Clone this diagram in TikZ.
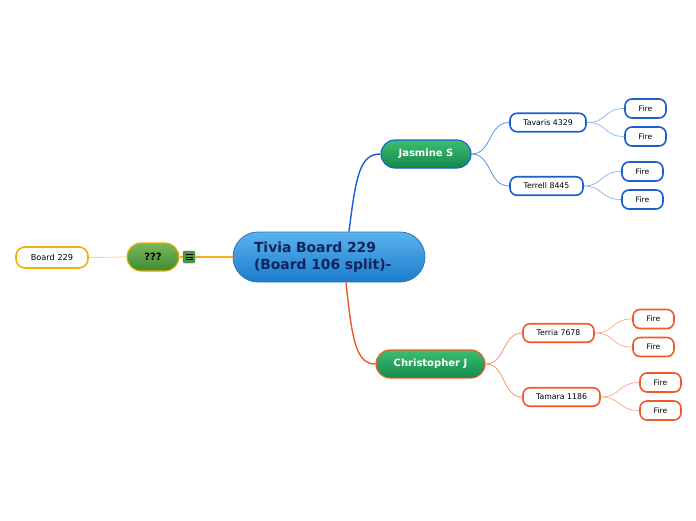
\documentclass[tikz,border=0pt]{standalone}
\usepackage{fontspec}
\setmainfont{DejaVu Sans}
\usetikzlibrary{calc}
\definecolor{blueA}{HTML}{1A5FD0}
\definecolor{blueB}{HTML}{4A8AE0}
\definecolor{blueC}{HTML}{8AB4F0}
\definecolor{orA}{HTML}{F05A28}
\definecolor{orB}{HTML}{F58A60}
\definecolor{orC}{HTML}{F8AA88}
\definecolor{gold}{HTML}{F2B000}
\definecolor{goldM}{HTML}{F5AE20}
\definecolor{goldL}{HTML}{F8D890}
\definecolor{navy}{HTML}{10245A}
\definecolor{cenTop}{HTML}{5AB2EE}
\definecolor{cenBot}{HTML}{1C7CCB}
\definecolor{cenBd}{HTML}{2A78C0}
\definecolor{grTop}{HTML}{3CBE72}
\definecolor{grBot}{HTML}{14884A}
\definecolor{olTop}{HTML}{78B858}
\definecolor{olBot}{HTML}{3E8A34}
\tikzset{
  central/.style={draw=cenBd, line width=0.8pt, top color=cenTop, bottom color=cenBot,
     minimum width=192pt, minimum height=50pt, rounded corners=25pt, text=navy, font=\bfseries\fontsize{13.9}{16.5}\selectfont, align=left},
  mainbr/.style={minimum height=28pt, rounded corners=14pt, top color=grTop, bottom color=grBot,
     text=white, font=\bfseries\fontsize{10}{12}\selectfont, line width=1.1pt, inner sep=0pt},
  sub/.style={draw=#1, line width=1.6pt, fill=white, minimum height=18.5pt, rounded corners=7pt, inner sep=0pt, font=\fontsize{7.8}{9}\selectfont},
  fire/.style={draw=#1, line width=1.6pt, fill=white, minimum width=41pt, minimum height=19pt, rounded corners=7pt, inner sep=0pt, font=\fontsize{7.6}{9}\selectfont},
}
\begin{document}
\begin{tikzpicture}[x=1pt,y=-1pt]
\useasboundingbox[fill=white] (0,0) rectangle (696,520);
% connectors on the left, behind the nodes
\node[central, text width=150pt] (c) at (329,257) {Tivia Board 229\\(Board 106 split)-};
\node[mainbr, draw=gold, minimum width=52pt, top color=olTop, bottom color=olBot, text=black] (q) at (153,257) {???};
\node[sub=gold, minimum width=72pt, rounded corners=9pt, minimum height=21pt, font=\fontsize{8.2}{10}\selectfont] (b) at (52,257.5) {Board 229};
\node[draw=olBot!80!black, fill=olBot!90!white, rounded corners=2pt, minimum width=12pt, minimum height=12pt, inner sep=0pt] (ic) at (189,257) {};
\draw[draw=goldM, line width=1.1pt] (c.west) -- (ic.east);
\draw[draw=goldM, line width=1.1pt] (ic.west) -- (q.east);
\draw[draw=goldL, line width=0.9pt] (q.west) -- (b.east);
\foreach \dy in {-2.5,0,2.5} \draw[black, line width=0.8pt] ($(ic.center)+(-3.5,\dy)$) -- ($(ic.center)+(3.5,\dy)$);
% Jasmine branch
\node[mainbr, draw=blueA, minimum width=90pt] (j) at (426,154) {Jasmine S};
\node[sub=blueA, minimum width=76pt] (t1) at (548,122.5) {Tavaris 4329};
\node[sub=blueA, minimum width=73pt] (t2) at (546.5,186) {Terrell 8445};
\node[fire=blueA] (f1) at (645.5,108.5) {Fire};
\node[fire=blueA] (f2) at (645.5,136.5) {Fire};
\node[fire=blueA] (f3) at (642.5,171.5) {Fire};
\node[fire=blueA] (f4) at (642.5,199.5) {Fire};
\coordinate (cj) at ($(c.north)+(20,0)$);
\draw[blueA, line width=1.4pt] (cj) .. controls (356,175) and (360,154) .. (j.west);
\draw[blueB, line width=0.7pt] (j.east) .. controls (492,154) and (488,122.5) .. (t1.west);
\draw[blueB, line width=0.7pt] (j.east) .. controls (492,154) and (488,186) .. (t2.west);
\draw[blueC, line width=0.7pt] (t1.east) .. controls (608,122.5) and (603,108.5) .. (f1.west);
\draw[blueC, line width=0.7pt] (t1.east) .. controls (608,122.5) and (603,136.5) .. (f2.west);
\draw[blueC, line width=0.7pt] (t2.east) .. controls (603,186) and (600,171.5) .. (f3.west);
\draw[blueC, line width=0.7pt] (t2.east) .. controls (603,186) and (600,199.5) .. (f4.west);
% Christopher branch
\node[mainbr, draw=orA, minimum width=109pt] (ch) at (430.5,364) {Christopher J};
\node[sub=orA, minimum width=71pt] (r1) at (558.5,333) {Terria 7678};
\node[sub=orA, minimum width=77pt] (r2) at (561.5,397) {Tamara 1186};
\node[fire=orA] (g1) at (653.5,319) {Fire};
\node[fire=orA] (g2) at (653.5,347) {Fire};
\node[fire=orA] (g3) at (660.5,382.5) {Fire};
\node[fire=orA] (g4) at (660.5,410.5) {Fire};
\coordinate (cc) at ($(c.south)+(17,0)$);
\draw[orA, line width=1.4pt] (cc) .. controls (352,340) and (356,364) .. (ch.west);
\draw[orB, line width=0.7pt] (ch.east) .. controls (506,364) and (502,333) .. (r1.west);
\draw[orB, line width=0.7pt] (ch.east) .. controls (506,364) and (502,397) .. (r2.west);
\draw[orC, line width=0.7pt] (r1.east) .. controls (615,333) and (611,319) .. (g1.west);
\draw[orC, line width=0.7pt] (r1.east) .. controls (615,333) and (611,347) .. (g2.west);
\draw[orC, line width=0.7pt] (r2.east) .. controls (621,397) and (618,382.5) .. (g3.west);
\draw[orC, line width=0.7pt] (r2.east) .. controls (621,397) and (618,410.5) .. (g4.west);
\end{tikzpicture}
\end{document}
